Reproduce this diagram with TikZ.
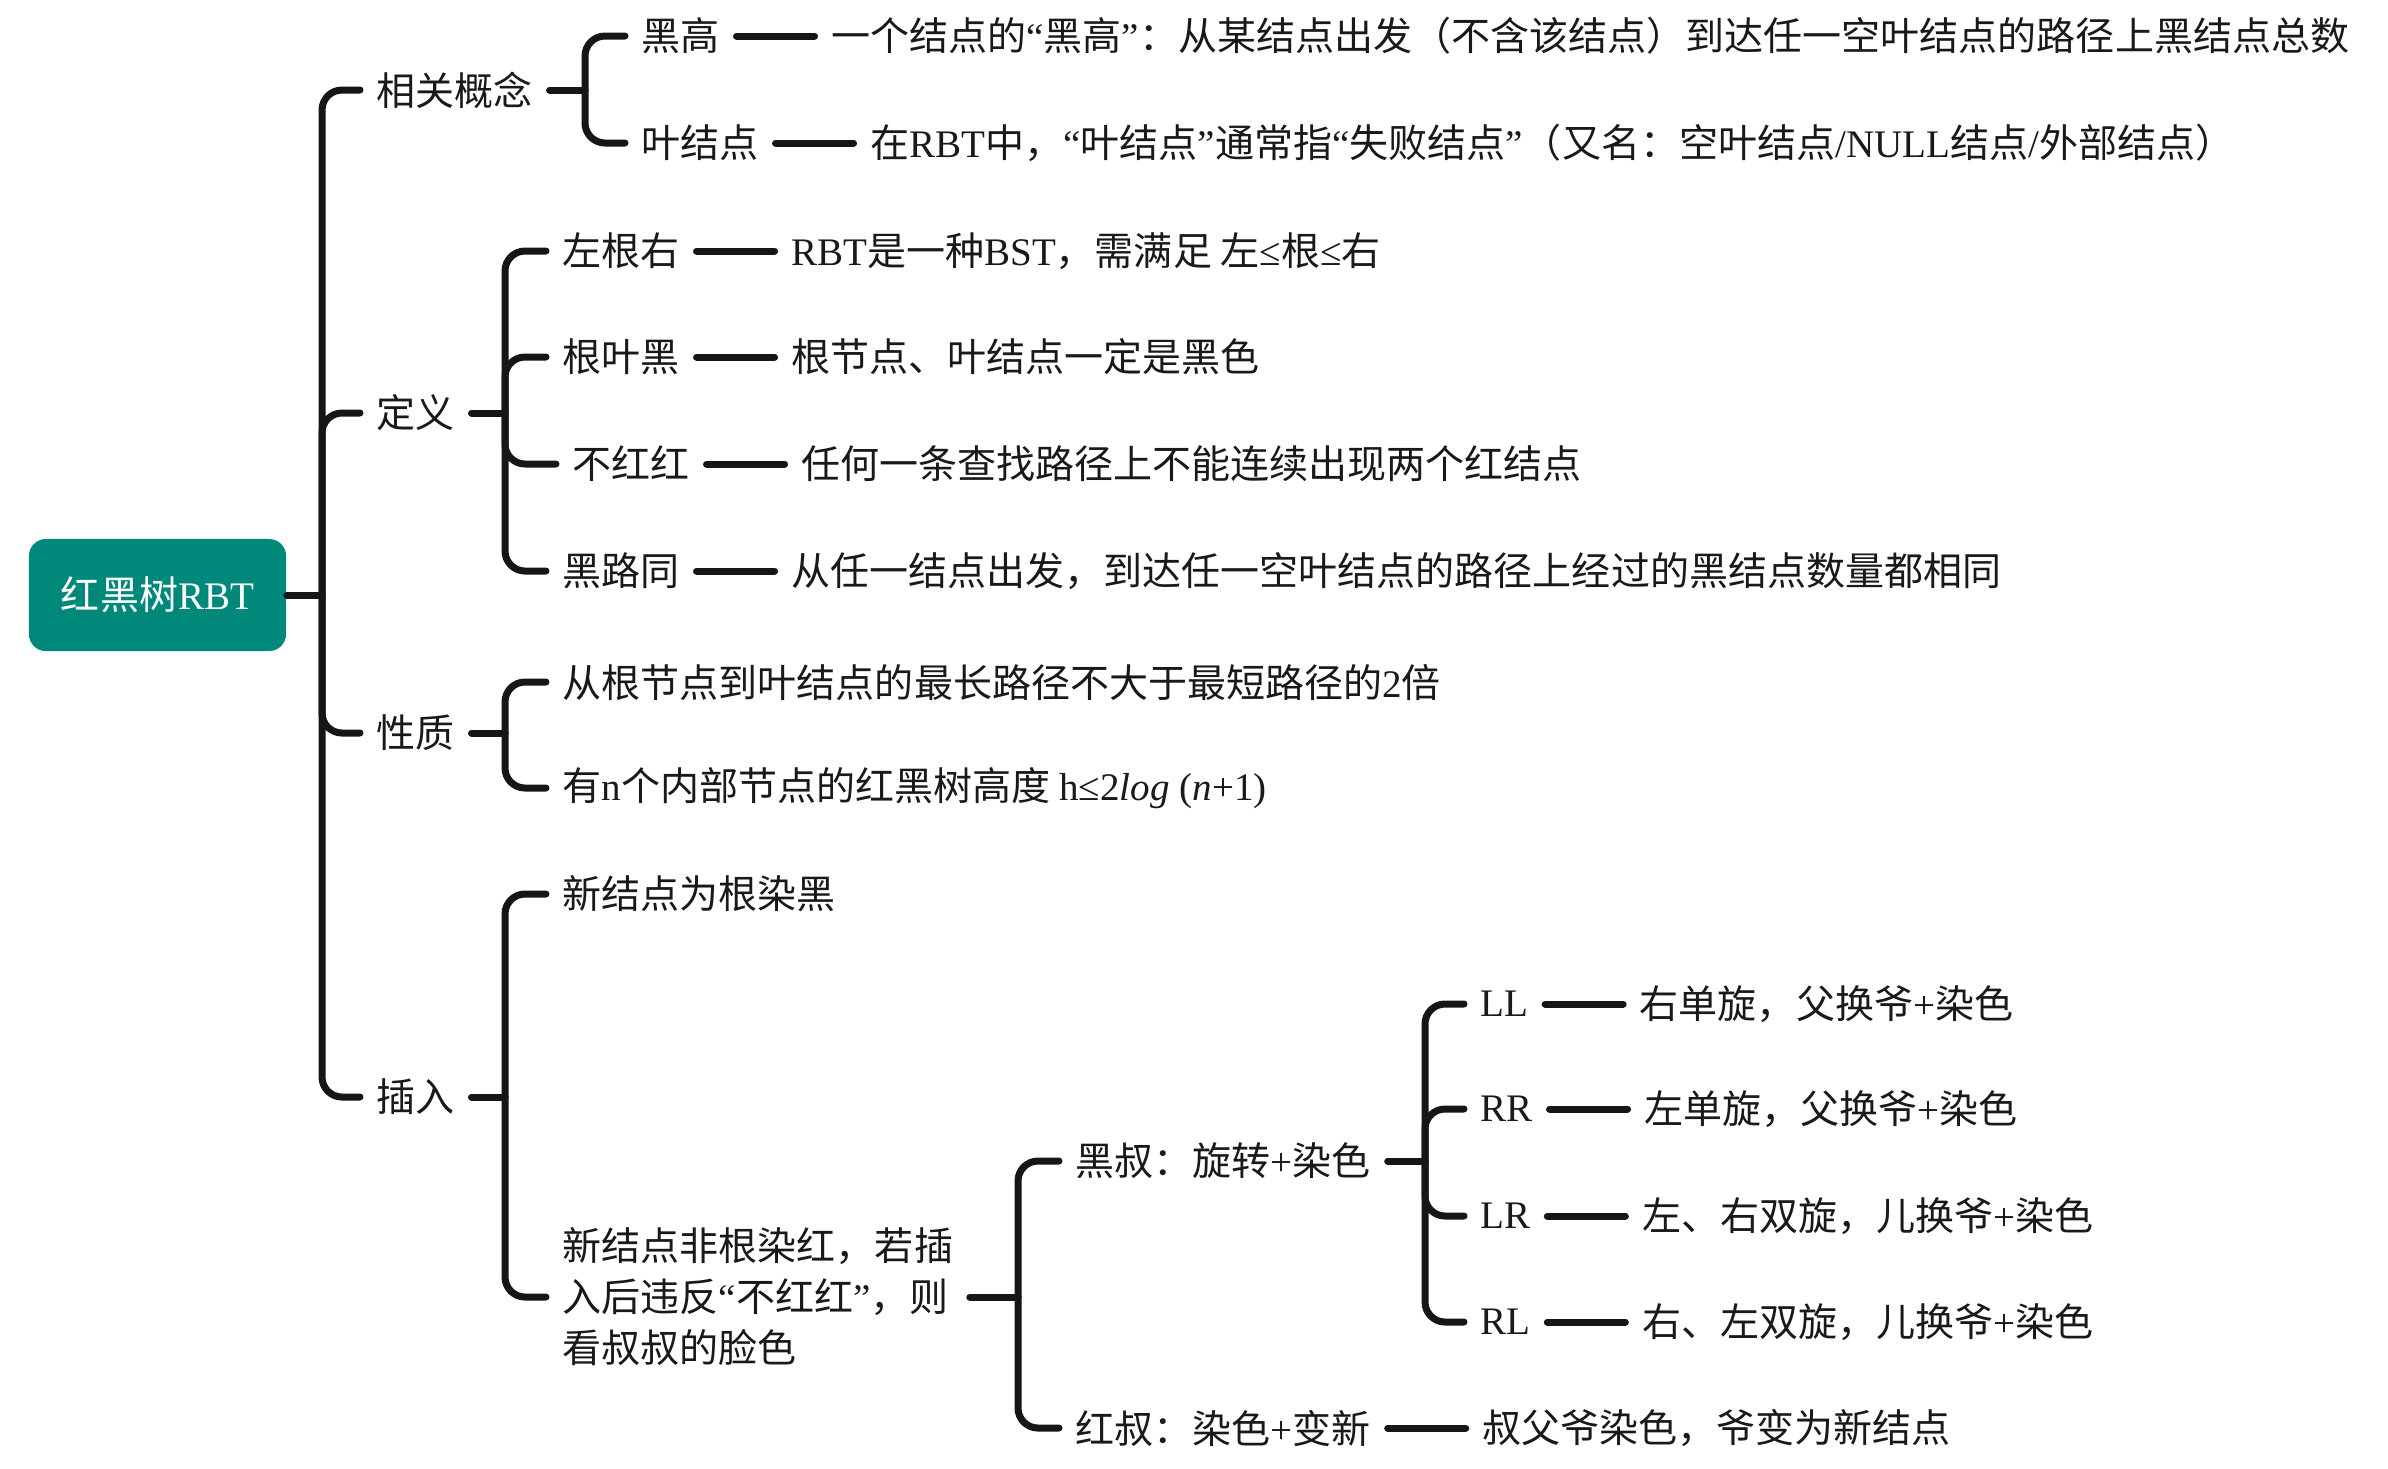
\documentclass[tikz,border=0pt]{standalone}
\usepackage{fontspec}
\setmainfont{Liberation Serif}
\newfontfamily\cjk{Noto Sans CJK SC}
\usetikzlibrary{positioning}
\newcommand\lat[1]{{\rmfamily #1}}
\definecolor{rbtgreen}{RGB}{0,137,122}
\definecolor{linegray}{RGB}{22,22,22}
\tikzset{
	txt/.style={anchor=west, inner xsep=0.16cm, inner ysep=0.05cm, text=black!90, font=\cjk\fontsize{11.1}{14.5}\selectfont},
	conn/.style={draw=linegray, line width=0.07cm, line cap=round},
	branch/.style={conn, rounded corners=0.2cm},
	rootbox/.style={fill=rbtgreen, rounded corners=0.17cm, minimum width=2.57cm, minimum height=1.12cm, text=white, font=\cjk\fontsize{11.1}{14.5}\selectfont},
}

\begin{document}
\begin{tikzpicture}[x=0.01cm, y=-0.01cm]
	%%%%% START %%%%%
	\useasboundingbox (0,0) rectangle (2388,1468);
	
	\node[rootbox] (rbt) at (157.5,595) {红黑树\lat{RBT}};
	\coordinate (t0) at (322,595);
	\draw[conn] (rbt.east) -- (t0);
	
	\node[txt] (xggn) at (360,90) {相关概念};
	\node[txt] (dy) at (360,413) {定义};
	\node[txt] (xz) at (360,733) {性质};
	\node[txt] (cr) at (360,1097) {插入};
	\draw[branch] (t0) |- (xggn.west);
	\draw[branch] (t0) |- (dy.west);
	\draw[branch] (t0) |- (xz.west);
	\draw[branch] (t0) |- (cr.west);
	
	% related concepts
	\coordinate (t1) at (585,90);
	\draw[conn] (xggn.east) -- (t1);
	\node[txt] (hg) at (625,36) {黑高};
	\node[txt, right=0.78cm of hg] (hgd) {一个结点的\lat{“}黑高\lat{”}：从某结点出发（不含该结点）到达任一空叶结点的路径上黑结点总数};
	\node[txt] (yjd) at (625,143) {叶结点};
	\node[txt, right=0.78cm of yjd] (yjdd) {在\lat{RBT}中，\lat{“}叶结点\lat{”}通常指\lat{“}失败结点\lat{”}（又名：空叶结点\lat{/NULL}结点\lat{/}外部结点）};
	\draw[branch] (t1) |- (hg.west);
	\draw[branch] (t1) |- (yjd.west);
	\draw[conn] (hg) -- (hgd);
	\draw[conn] (yjd) -- (yjdd);
	
	% definition
	\coordinate (t2) at (505,413);
	\draw[conn] (dy.east) -- (t2);
	\node[txt] (zgy) at (546,251) {左根右};
	\node[txt, right=0.78cm of zgy] (zgyd) {\lat{RBT}是一种\lat{BST}，需满足 左\lat{≤}根\lat{≤}右};
	\node[txt] (gyh) at (546,357) {根叶黑};
	\node[txt, right=0.78cm of gyh] (gyhd) {根节点、叶结点一定是黑色};
	\node[txt] (bhh) at (556,464) {不红红};
	\node[txt, right=0.78cm of bhh] (bhhd) {任何一条查找路径上不能连续出现两个红结点};
	\node[txt] (hlt) at (546,571) {黑路同};
	\node[txt, right=0.78cm of hlt] (hltd) {从任一结点出发，到达任一空叶结点的路径上经过的黑结点数量都相同};
	\draw[branch] (t2) |- (zgy.west);
	\draw[branch] (t2) |- (gyh.west);
	\draw[branch] (t2) |- (bhh.west);
	\draw[branch] (t2) |- (hlt.west);
	\draw[conn] (zgy) -- (zgyd);
	\draw[conn] (gyh) -- (gyhd);
	\draw[conn] (bhh) -- (bhhd);
	\draw[conn] (hlt) -- (hltd);
	
	% properties
	\coordinate (t3) at (505,733);
	\draw[conn] (xz.east) -- (t3);
	\node[txt] (xz1) at (546,682) {从根节点到叶结点的最长路径不大于最短路径的\lat{2}倍};
	\node[txt] (xz2) at (546,788) {有\lat{n}个内部节点的红黑树高度 \lat{h≤2\textit{log} (\textit{n}+1)}};
	\draw[branch] (t3) |- (xz1.west);
	\draw[branch] (t3) |- (xz2.west);
	
	% insertion
	\coordinate (t4) at (505,1097);
	\draw[conn] (cr.east) -- (t4);
	\node[txt] (cr1) at (546,894) {新结点为根染黑};
	\node[txt, align=left] (cr2) at (546,1297) {新结点非根染红，若插\\入后违反\lat{“}不红红\lat{”}，则\\看叔叔的脸色};
	\draw[branch] (t4) |- (cr1.west);
	\draw[branch] (t4) |- (cr2.west);
	
	\coordinate (t5) at (1018,1297);
	\draw[conn] (cr2.east) -- (t5);
	\node[txt] (hs) at (1059,1161) {黑叔：旋转\lat{+}染色};
	\node[txt] (rs) at (1059,1428) {红叔：染色\lat{+}变新};
	\node[txt, right=0.78cm of rs] (rsd) {叔父爷染色，爷变为新结点};
	\draw[branch] (t5) |- (hs.west);
	\draw[branch] (t5) |- (rs.west);
	\draw[conn] (rs) -- (rsd);
	
	\coordinate (t6) at (1425,1161);
	\draw[conn] (hs.east) -- (t6);
	\node[txt] (ll) at (1464,1004) {\lat{LL}};
	\node[txt, right=0.78cm of ll] (lld) {右单旋，父换爷\lat{+}染色};
	\node[txt] (rr) at (1464,1109) {\lat{RR}};
	\node[txt, right=0.78cm of rr] (rrd) {左单旋，父换爷\lat{+}染色};
	\node[txt] (lr) at (1464,1216) {\lat{LR}};
	\node[txt, right=0.78cm of lr] (lrd) {左、右双旋，儿换爷\lat{+}染色};
	\node[txt] (rl) at (1464,1322) {\lat{RL}};
	\node[txt, right=0.78cm of rl] (rld) {右、左双旋，儿换爷\lat{+}染色};
	\draw[branch] (t6) |- (ll.west);
	\draw[branch] (t6) |- (rr.west);
	\draw[branch] (t6) |- (lr.west);
	\draw[branch] (t6) |- (rl.west);
	\draw[conn] (ll) -- (lld);
	\draw[conn] (rr) -- (rrd);
	\draw[conn] (lr) -- (lrd);
	\draw[conn] (rl) -- (rld);
	
	%%%%% END %%%%%
\end{tikzpicture}
\end{document}
